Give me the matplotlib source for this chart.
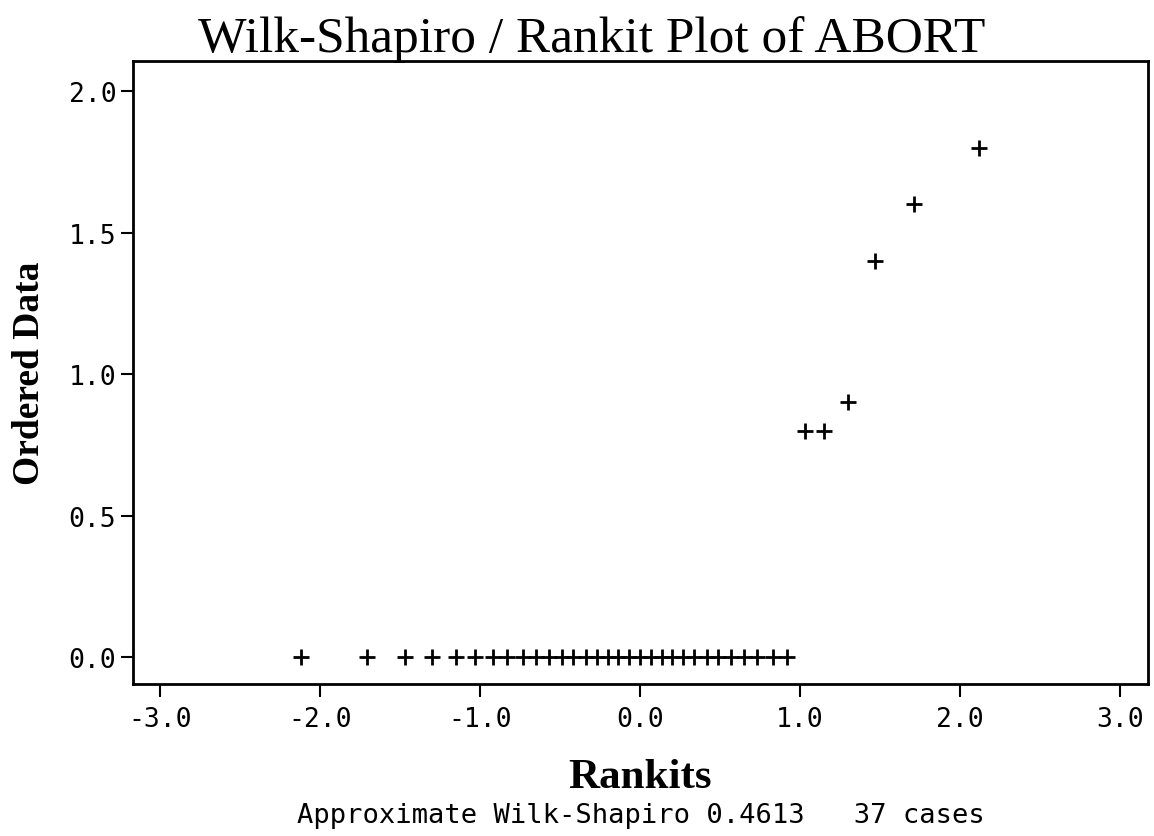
import matplotlib.pyplot as plt

# expected normal order statistics (rankits) for 37 cases
rankits = [
    -2.12, -1.71, -1.47, -1.30, -1.15, -1.03, -0.92, -0.83, -0.73, -0.65,
    -0.57, -0.49, -0.42, -0.34, -0.27, -0.20, -0.14, -0.07, 0.00, 0.07,
    0.14, 0.20, 0.27, 0.34, 0.42, 0.49, 0.57, 0.65, 0.73, 0.83,
    0.92, 1.03, 1.15, 1.30, 1.47, 1.71, 2.12,
]
# ordered ABORT values
ordered = [0.0] * 31 + [0.8, 0.8, 0.9, 1.4, 1.6, 1.8]

x_ticks = [-3.0, -2.0, -1.0, 0.0, 1.0, 2.0, 3.0]
y_ticks = [0.0, 0.5, 1.0, 1.5, 2.0]

title = "Wilk-Shapiro / Rankit Plot of ABORT"
footnote = "Approximate Wilk-Shapiro 0.4613   37 cases"

fig = plt.figure(figsize=(11.54, 8.37), dpi=100)
ax = fig.add_axes([133 / 1154, 1 - 685 / 837, (1148 - 133) / 1154, (685 - 62) / 837])

ax.plot(rankits, ordered, linestyle="none", marker="+", markersize=12,
        markeredgewidth=2, color="black")

ax.set_xlim(-3.17, 3.175)
ax.set_ylim(-0.095, 2.106)

mono = "DejaVu Sans Mono"
ax.set_xticks(x_ticks)
ax.set_xticklabels([f"{v:.1f}" for v in x_ticks], family=mono, fontsize=19)
ax.set_yticks(y_ticks)
ax.set_yticklabels([f"{v:.1f}" for v in y_ticks], family=mono, fontsize=19)
ax.tick_params(direction="out", length=9, width=1.5, top=False, right=False)
ax.tick_params(axis="y", pad=3)
ax.tick_params(axis="x", pad=7)

for spine in ax.spines.values():
    spine.set_linewidth(2)
    spine.set_color("black")

fig.text(592 / 1154, 1 - 52 / 837, title, ha="center", va="baseline",
         family="Liberation Serif", fontsize=37)
fig.text(30 / 1154, 1 - 373 / 837, "Ordered Data", ha="center", va="center",
         rotation=90, family="Liberation Serif", fontweight="bold", fontsize=27)
fig.text(640 / 1154, 1 - 788 / 837, "Rankits", ha="center", va="baseline",
         family="Liberation Serif", fontweight="bold", fontsize=31)
fig.text(641 / 1154, 1 - 823 / 837, footnote, ha="center", va="baseline",
         family=mono, fontsize=19.5)

fig.savefig("out.png", dpi=100)
